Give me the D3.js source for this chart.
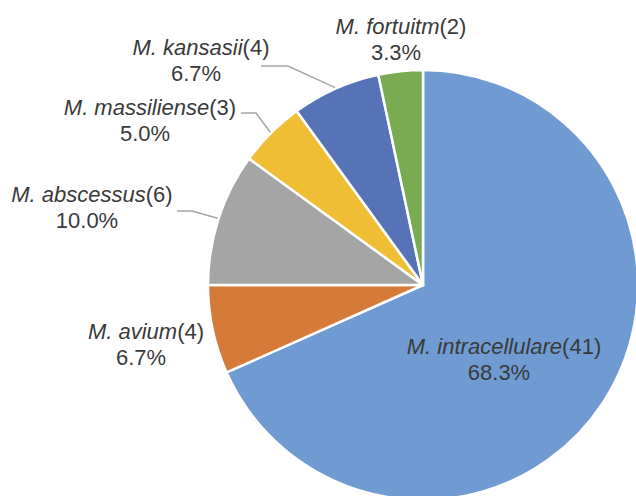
<!DOCTYPE html>
<html>
<head>
<meta charset="utf-8">
<script src="https://cdn.jsdelivr.net/npm/d3@7"></script>
<style>
  html, body { margin: 0; padding: 0; background: #fff; }
  #chart { width: 636px; height: 496px; overflow: hidden; }
  text { font-family: "Liberation Sans", Arial, sans-serif; }
</style>
</head>
<body>
<div id="chart"></div>
<script>
// Data
var species = ['M. intracellulare', 'M. avium', 'M. abscessus', 'M. massiliense', 'M. kansasii', 'M. fortuitm'];
var counts = [41, 4, 6, 3, 4, 2];
var colours = ['#6f9bd2', '#d57a38', '#a5a5a5', '#efbe34', '#5773b8', '#7aab52'];

// Label placement (Excel put these by hand), centre x and first baseline
var labelX = [504, 146, 92, 150, 201, 401];
var labelY = [354, 339, 202, 115, 55, 34];
// leader lines: start point next to label, bend x (null = no leader)
var leaderStart = [null, null, [177, 211], [241, 113], [261, 66], null];
var leaderBend = [null, null, 192, 256, 288, null];

var width = 636;
var height = 496;
var cx = 423;
var cy = 285;
var radius = 215;

var total = d3.sum(counts);

var svg = d3.select('#chart')
    .append('svg')
    .attr('width', width)
    .attr('height', height);

var g = svg.append('g')
    .attr('transform', 'translate(' + cx + ',' + cy + ')');

var pie = d3.pie()
    .sort(null)
    .value(function(d) { return d; });

var arc = d3.arc()
    .innerRadius(0)
    .outerRadius(radius);

var arcs = pie(counts);

g.selectAll('.slice')
    .data(arcs)
    .enter().append('path')
    .attr('class', 'slice')
    .attr('d', arc)
    .style('fill', function(d, i) { return colours[i]; })
    .style('stroke', '#fff')
    .style('stroke-width', '2.5px')
    .style('stroke-linejoin', 'round');

// Leader lines, ending on the rim at the middle of the slice
var leaders = arcs.map(function(d, i) {
    if (!leaderStart[i]) return null;
    var mid = (d.startAngle + d.endAngle) / 2;
    var ex = cx + Math.sin(mid) * (radius + 1);
    var ey = cy - Math.cos(mid) * (radius + 1);
    return [leaderStart[i], [leaderBend[i], leaderStart[i][1]], [ex, ey]];
}).filter(function(d) { return d; });

svg.selectAll('.leader')
    .data(leaders)
    .enter().append('path')
    .attr('class', 'leader')
    .attr('d', d3.line())
    .style('fill', 'none')
    .style('stroke', '#a6a6a6')
    .style('stroke-width', '1.5px');

// Labels
var labels = svg.selectAll('.label')
    .data(arcs)
    .enter().append('text')
    .attr('class', 'label')
    .attr('text-anchor', 'middle')
    .style('font-size', '22px')
    .style('fill', '#3a3a3a');

labels.each(function(d, i) {
    var t = d3.select(this);
    var l1 = t.append('tspan')
        .attr('x', labelX[i])
        .attr('y', labelY[i]);
    l1.append('tspan')
        .style('font-style', 'italic')
        .text(species[i]);
    l1.append('tspan')
        .text('(' + counts[i] + ')');
    t.append('tspan')
        .attr('x', labelX[i] - 5)
        .attr('y', labelY[i] + 26)
        .text(d3.format('.1%')(counts[i] / total));
});
</script>
</body>
</html>
